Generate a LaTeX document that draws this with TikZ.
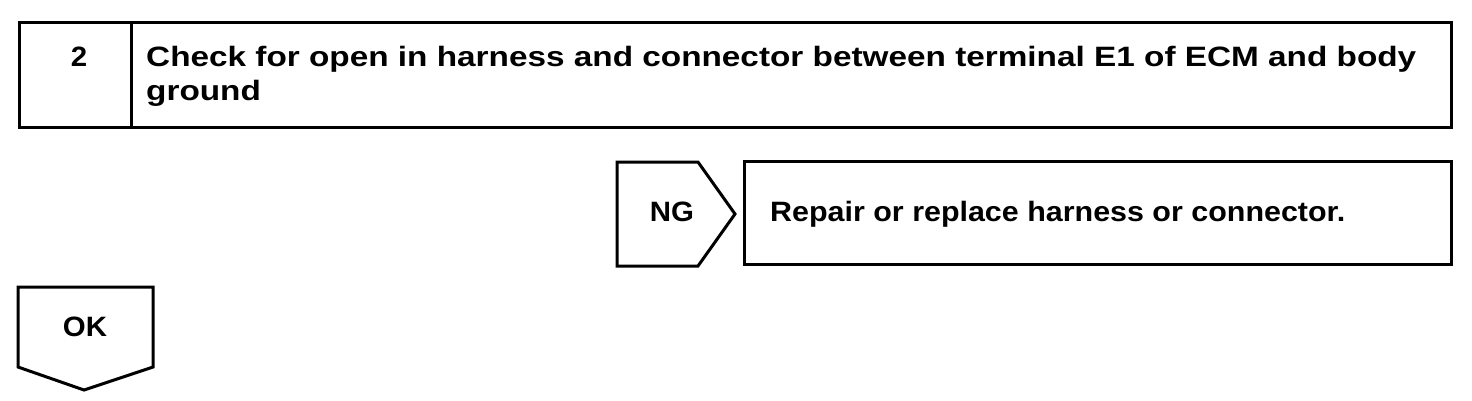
\documentclass[tikz,border=0pt]{standalone}
\usepackage{fontspec}
\setmainfont{Liberation Sans}
\newfontfamily\titlefont[FakeStretch=1.19]{Liberation Sans}
\newfontfamily\repairfont[FakeStretch=1.087]{Liberation Sans}
\newfontfamily\tagfont[FakeStretch=1.05]{Liberation Sans}
\begin{document}
\begin{tikzpicture}[x=1pt,y=-1pt,
  frame/.style={draw=black,line width=3pt,line join=miter},
  lbl/.style={font=\tagfont\bfseries\fontsize{28}{34}\selectfont,inner sep=0pt}]
\useasboundingbox[fill=white] (0,0) rectangle (1472,400);
% step box
\draw[frame] (19,22) rectangle (1451,127);
\draw[frame] (131,22) -- (131,127);
\node[lbl,anchor=base] (num) at (79,66) {2};
\node[lbl,font=\titlefont\bfseries\fontsize{28}{34}\selectfont,anchor=base west,align=left] (title) at (146,100) {Check for open in harness and connector between terminal E1 of ECM and body\\ground};
% NG
\draw[frame] (617,162) -- (698,162) -- (735,214) -- (698,266) -- (617,266) -- cycle;
\node[lbl,anchor=base] (ng) at (672,221) {NG};
\draw[frame] (744,161) rectangle (1451,264);
\node[lbl,font=\repairfont\bfseries\fontsize{28}{34}\selectfont,anchor=base west] (repair) at (770,221) {Repair or replace harness or connector.};
% OK
\draw[frame] (18,287) -- (153,287) -- (153,367) -- (84,390) -- (18,367) -- cycle;
\node[lbl,anchor=base] (ok) at (85,336) {OK};
\end{tikzpicture}
\end{document}
